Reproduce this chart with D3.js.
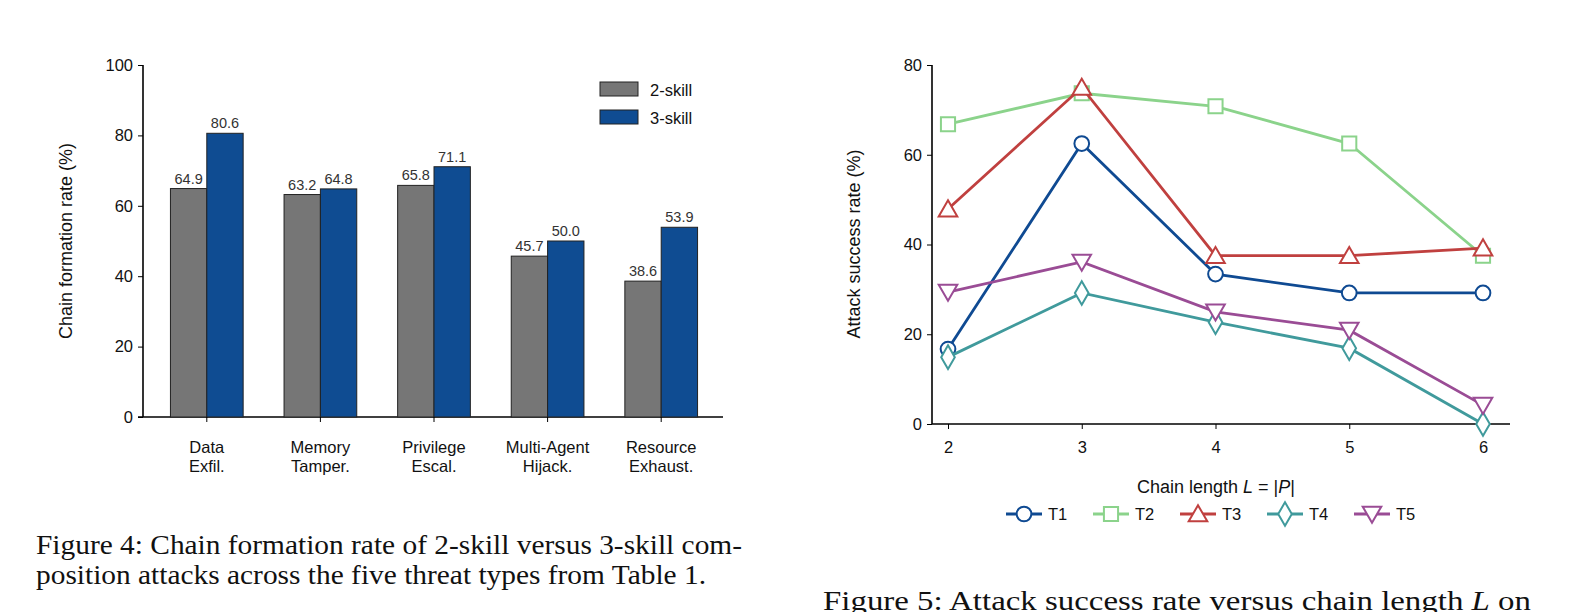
<!DOCTYPE html>
<html><head><meta charset="utf-8">
<script src="https://cdn.jsdelivr.net/npm/d3@7"></script>
<style>
body{margin:0;background:#fff;}
text{font-family:"Liberation Sans",Arial,sans-serif;}
.cap{font-family:"Liberation Serif","Times New Roman",serif;font-size:28px;fill:#111;}
</style></head>
<body><svg id="c" width="1585" height="612"></svg>
<script>
// Figure 4 data
const threats = [["Data","Exfil."],["Memory","Tamper."],["Privilege","Escal."],["Multi-Agent","Hijack."],["Resource","Exhaust."]];
const twoSkill = [64.9, 63.2, 65.8, 45.7, 38.6];
const threeSkill = [80.6, 64.8, 71.1, 50.0, 53.9];

// Figure 5 data
const chainLengths = [2, 3, 4, 5, 6];
const seriesNames = ["T1", "T2", "T3", "T4", "T5"];
const seriesColors = ["#0f4a92", "#8bd38b", "#c0403f", "#409a9c", "#9a4c95"];
const seriesSymbols = ["circle", "square", "triangle", "diamond", "triangleDown"];
const seriesValues = [
  [16.7, 62.5, 33.4, 29.2, 29.2],
  [66.8, 73.7, 70.8, 62.5, 37.5],
  [47.9, 75.0, 37.5, 37.5, 39.2],
  [14.9, 29.2, 22.7, 16.9, 0.0],
  [29.4, 36.1, 25.0, 20.9, 4.2]
];

const svg = d3.select("#c");

// ===== Left chart =====
const L = {x0: 143, x1: 723, y0: 417, y1: 65};
const x = d3.scaleBand().domain(d3.range(threats.length)).range([150, 718]).paddingInner(0.36).paddingOuter(0.18);
const y = d3.scaleLinear().domain([0, 100]).range([L.y0, L.y1]);
const bw = x.bandwidth() / 2;
const g1 = svg.append("g");

g1.append("g").attr("transform", `translate(${L.x0},0)`)
  .call(d3.axisLeft(y).ticks(5).tickSize(5).tickPadding(5))
  .call(a => a.select(".domain").attr("stroke-width", 1.6).attr("d", `M0,${L.y0}V${L.y1}`))
  .call(a => a.selectAll("text").attr("font-size", 16.5).attr("fill", "#111"));
g1.append("line").attr("x1", L.x0 - 5).attr("x2", L.x1).attr("y1", L.y0).attr("y2", L.y0).attr("stroke", "#000").attr("stroke-width", 1.6);

const groups = [[twoSkill, "#767676", 0], [threeSkill, "#0f4c92", 1]];
groups.forEach(([vals, col, k]) => {
  vals.forEach((v, i) => {
    const bx = x(i) + k * bw;
    g1.append("rect").attr("x", bx).attr("y", y(v)).attr("width", bw).attr("height", y(0) - y(v))
      .attr("fill", col).attr("stroke", "#222").attr("stroke-width", 1);
    g1.append("text").attr("x", bx + bw / 2).attr("y", y(v) - 5).attr("text-anchor", "middle")
      .attr("font-size", 14.5).attr("fill", "#333").text(v.toFixed(1));
  });
});
threats.forEach((t, i) => {
  const cx = x(i) + bw;
  g1.append("line").attr("x1", cx).attr("x2", cx).attr("y1", L.y0).attr("y2", L.y0 + 5).attr("stroke", "#000");
  t.forEach((s, j) => g1.append("text").attr("x", cx).attr("y", 453 + j * 19).attr("text-anchor", "middle")
    .attr("font-size", 16.5).attr("fill", "#111").text(s));
});
g1.append("text").attr("transform", "translate(72,241) rotate(-90)").attr("text-anchor", "middle")
  .attr("font-size", 18).attr("fill", "#111").text("Chain formation rate (%)");
[["2-skill", "#767676"], ["3-skill", "#0f4c92"]].forEach(([n, c], i) => {
  g1.append("rect").attr("x", 600).attr("y", 82 + i * 28).attr("width", 38).attr("height", 14)
    .attr("fill", c).attr("stroke", "#222");
  g1.append("text").attr("x", 650).attr("y", 96 + i * 28).attr("font-size", 16.5).attr("fill", "#111").text(n);
});

// ===== Right chart =====
const R = {x0: 932, x1: 1510, y0: 424, y1: 65};
const x2 = d3.scaleLinear().domain([2, 6]).range([948, 1483]);
const y2 = d3.scaleLinear().domain([0, 80]).range([R.y0, R.y1]);
const g2 = svg.append("g");
g2.append("g").attr("transform", `translate(${R.x0},0)`)
  .call(d3.axisLeft(y2).ticks(4).tickSize(5).tickPadding(5))
  .call(a => a.select(".domain").attr("stroke-width", 1.6).attr("d", `M0,${R.y0}V${R.y1}`))
  .call(a => a.selectAll("text").attr("font-size", 16.5).attr("fill", "#111"));
g2.append("g").attr("transform", `translate(0,${R.y0})`)
  .call(d3.axisBottom(x2).tickValues(chainLengths).tickFormat(d3.format("d")).tickSize(5).tickPadding(12))
  .call(a => a.select(".domain").attr("stroke-width", 1.6).attr("d", `M${R.x0},0H${R.x1}`))
  .call(a => a.selectAll("text").attr("font-size", 16.5).attr("fill", "#111"));

const symMap = {circle: d3.symbolCircle, square: d3.symbolSquare, triangle: d3.symbolTriangle, diamond: d3.symbolDiamond, triangleDown: d3.symbolTriangle};
function marker(sel, s, c, px, py) {
  const size = s === "circle" ? 170 : s === "square" ? 200 : s === "diamond" ? 160 : 150;
  sel.append("path").attr("d", d3.symbol().type(symMap[s]).size(size)())
    .attr("transform", `translate(${px},${py + (s === "triangle" ? 2 : s === "triangleDown" ? -2 : 0)})` + (s === "triangleDown" ? " rotate(180)" : ""))
    .attr("fill", "#fff").attr("stroke", c).attr("stroke-width", 2);
}
const line = d3.line().x((d, i) => x2(chainLengths[i])).y(d => y2(d));
seriesValues.forEach((vals, k) => {
  g2.append("path").datum(vals).attr("d", line).attr("fill", "none").attr("stroke", seriesColors[k]).attr("stroke-width", 2.8);
  vals.forEach((v, i) => marker(g2, seriesSymbols[k], seriesColors[k], x2(chainLengths[i]), y2(v)));
});
g2.append("text").attr("transform", "translate(860,244) rotate(-90)").attr("text-anchor", "middle")
  .attr("font-size", 18).attr("fill", "#111").text("Attack success rate (%)");
const xl = g2.append("text").attr("x", 1216).attr("y", 493).attr("text-anchor", "middle").attr("font-size", 18).attr("fill", "#111");
xl.append("tspan").text("Chain length ");
xl.append("tspan").attr("font-style", "italic").text("L");
xl.append("tspan").text(" = |");
xl.append("tspan").attr("font-style", "italic").text("P");
xl.append("tspan").text("|");
seriesNames.forEach((n, k) => {
  const lx = 1006 + k * 87;
  g2.append("line").attr("x1", lx).attr("x2", lx + 36).attr("y1", 514).attr("y2", 514).attr("stroke", seriesColors[k]).attr("stroke-width", 2.8);
  marker(g2, seriesSymbols[k], seriesColors[k], lx + 18, 514);
  g2.append("text").attr("x", lx + 42).attr("y", 520).attr("font-size", 16.5).attr("fill", "#111").text(n);
});

// captions
svg.append("text").attr("class", "cap").attr("x", 36).attr("y", 554).attr("textLength", 706).attr("lengthAdjust", "spacingAndGlyphs").text("Figure 4: Chain formation rate of 2-skill versus 3-skill com-");
svg.append("text").attr("class", "cap").attr("x", 36).attr("y", 584).attr("textLength", 670).attr("lengthAdjust", "spacingAndGlyphs").text("position attacks across the five threat types from Table 1.");
const c5 = svg.append("text").attr("class", "cap").attr("x", 823).attr("y", 610).attr("textLength", 708).attr("lengthAdjust", "spacingAndGlyphs");
c5.append("tspan").text("Figure 5: Attack success rate versus chain length ");
c5.append("tspan").attr("font-style", "italic").text("L");
c5.append("tspan").text(" on");
</script></body></html>
